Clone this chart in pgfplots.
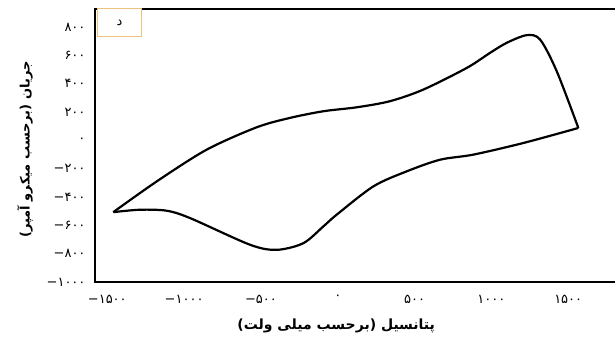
\documentclass[border=0pt]{standalone}
\usepackage{fontspec}
\usepackage{pgfplots}
\pgfplotsset{compat=1.18}
\setmainfont{DejaVu Sans}
\newfontfamily\arabicfont[Script=Arabic]{DejaVu Sans}
\TeXXeTstate=1
\definecolor{boxorange}{HTML}{EBC27A}
\newcommand{\mn}{{\rmfamily −}}
\begin{document}
\begin{tikzpicture}
\useasboundingbox (-95pt,-56pt) rectangle (520pt,282pt);
\begin{axis}[
  x=0.15364pt, y=0.1417pt,
  xmin=-1580, xmax=1818,
  ymin=-1000, ymax=927,
  axis line style={line width=2.4pt, black},
  major tick length=0pt,
  xtick={-1500,-1000,-500,0,500,1000,1500},
  xticklabels={\mn{\arabicfont ۱۵۰۰},\mn{\arabicfont ۱۰۰۰},\mn{\arabicfont ۵۰۰},{\arabicfont ۰},{\arabicfont ۵۰۰},{\arabicfont ۱۰۰۰},{\arabicfont ۱۵۰۰}},
  ytick={-1000,-800,-600,-400,-200,0,200,400,600,800},
  yticklabels={\mn{\arabicfont ۱۰۰۰},\mn{\arabicfont ۸۰۰},\mn{\arabicfont ۶۰۰},\mn{\arabicfont ۴۰۰},\mn{\arabicfont ۲۰۰},{\arabicfont ۰},{\arabicfont ۲۰۰},{\arabicfont ۴۰۰},{\arabicfont ۶۰۰},{\arabicfont ۸۰۰}},
  ticklabel style={font=\fontsize{13}{15}\selectfont},
  xticklabel style={yshift=-10pt},
  yticklabel style={xshift=-6pt},
  every axis x label/.style={at={(axis description cs:0.462,0)}, yshift=-44pt, anchor=center},
  every axis y label/.style={at={(axis description cs:0,0.5)}, xshift=-70pt, yshift=-4pt, rotate=90, anchor=center},
  xlabel={\arabicfont\bfseries\fontsize{14}{16}\selectfont\beginR پتانسیل (برحسب میلی ولت)\endR},
  ylabel={\arabicfont\bfseries\fontsize{13}{15}\selectfont\beginR جریان (برحسب میکرو آمپر)\endR},
  clip=false,
]
\addplot[black, line width=2.2pt, smooth, tension=0.5] coordinates {
(-1461,-507) (-1178,-290) (-853,-66) (-527,92) (-311,158) (-94,205) (124,233) (340,276) (557,358) (840,511) (991,617) (1100,688) (1230,742) (1317,711) (1425,488) (1566,87)
};
\addplot[black, line width=2.2pt, smooth, tension=0.5] coordinates {
(1566,87) (1208,-19) (883,-101) (666,-137) (449,-219) (232,-325) (-7,-525) (-94,-608) (-224,-726) (-397,-773) (-571,-737) (-961,-549) (-1113,-497) (-1287,-490) (-1461,-507)
};
\end{axis}
\node[draw=boxorange, line width=1.2pt, fill=white, minimum width=44pt, minimum height=28pt, anchor=north west, inner sep=0pt] at (2pt,274pt) {\arabicfont\fontsize{13}{15}\selectfont د};
\end{tikzpicture}
\end{document}
